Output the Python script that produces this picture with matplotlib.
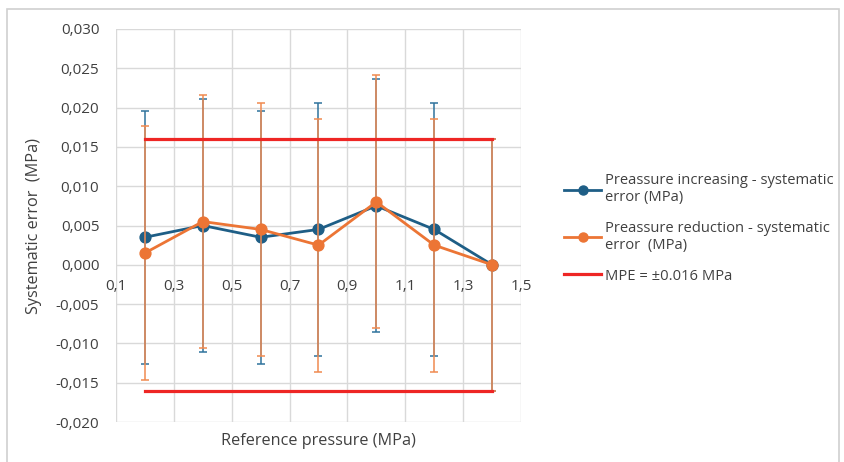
import matplotlib.pyplot as plt
from matplotlib.ticker import FuncFormatter
from matplotlib.patches import Rectangle
from matplotlib.lines import Line2D

# data
pressure = [0.2, 0.4, 0.6, 0.8, 1.0, 1.2, 1.4]
err_increasing = [0.0035, 0.005, 0.0035, 0.0045, 0.0075, 0.0045, 0.0]
err_reduction = [0.0015, 0.0055, 0.0045, 0.0025, 0.008, 0.0025, 0.0]
uncert_increasing = [0.0161, 0.0161, 0.0161, 0.0161, 0.0161, 0.0161, 0.016]
uncert_reduction = [0.0161, 0.0161, 0.0161, 0.0161, 0.0161, 0.0161, 0.016]
mpe_x = [0.2, 1.4]
mpe = 0.016

x_ticks = [0.1, 0.3, 0.5, 0.7, 0.9, 1.1, 1.3, 1.5]
y_ticks = [-0.020, -0.015, -0.010, -0.005, 0.0, 0.005, 0.010, 0.015, 0.020, 0.025, 0.030]

labels = ["Preassure increasing - systematic\nerror (MPa)",
          "Preassure reduction - systematic\nerror  (MPa)",
          "MPE = \u00b10.016 MPa"]

blue = "#1E5E86"
orange = "#EC7535"
red = "#EE2624"
text_col = "#404040"
grid_col = "#D9D9D9"

plt.rcParams['font.family'] = ['Open Sans', 'DejaVu Sans']

fig = plt.figure(figsize=(8.45, 4.62), dpi=100)
fig.patches.append(Rectangle((7 / 845, -0.01), 832 / 845, 1 - 9 / 462 + 0.01,
                             transform=fig.transFigure, fill=False,
                             edgecolor="#D0D0D0", linewidth=1.2))

ax = fig.add_axes([116 / 845, 1 - 422 / 462, 405 / 845, 393 / 462])

# blue series first, orange on top of it
ax.errorbar(pressure, err_increasing, yerr=uncert_increasing, color=blue,
            ecolor="#2F739C", elinewidth=1.1, capsize=3.2, capthick=1.1,
            linewidth=2.0, marker='o', markersize=7.8, zorder=3)
ax.errorbar(pressure, err_reduction, yerr=uncert_reduction, color=orange,
            ecolor="#F08A50", elinewidth=1.1, capsize=3.2, capthick=1.1,
            linewidth=2.0, marker='o', markersize=7.8, zorder=4)
ax.plot(mpe_x, [mpe, mpe], color=red, linewidth=2.3, zorder=5)
ax.plot(mpe_x, [-mpe, -mpe], color=red, linewidth=2.3, zorder=5)

ax.set_xlim(0.1, 1.5)
ax.set_ylim(-0.020, 0.030)
ax.set_xticks(x_ticks)
ax.set_yticks(y_ticks)
ax.xaxis.set_major_formatter(FuncFormatter(lambda v, p: f"{v:.1f}".replace('.', ',')))
ax.yaxis.set_major_formatter(FuncFormatter(lambda v, p: f"{v:.3f}".replace('.', ',').replace('-0,000', '0,000')))
ax.grid(True, color=grid_col, linewidth=1.0, zorder=0)
ax.set_axisbelow(True)

for s in ['top', 'right', 'left']:
    ax.spines[s].set_visible(False)
ax.spines['bottom'].set_position(('data', 0))
ax.spines['bottom'].set_visible(False)
ax.tick_params(axis='both', length=0, labelsize=11, labelcolor=text_col)
ax.tick_params(axis='x', pad=10)
ax.tick_params(axis='y', pad=12)

ax.set_ylabel("Systematic error  (MPa)", fontsize=11.7, color=text_col, labelpad=10)
fig.text(318 / 845, 1 - 441 / 462, "Reference pressure (MPa)", fontsize=11.7,
         color=text_col, ha='center', va='center')

handles = [Line2D([], [], color=blue, linewidth=2.0, marker='o', markersize=6.5),
           Line2D([], [], color=orange, linewidth=2.0, marker='o', markersize=6.5),
           Line2D([], [], color=red, linewidth=2.3)]
fig.legend(handles, labels, loc='upper left', bbox_to_anchor=(551 / 845, 1 - 160 / 462),
           frameon=False, fontsize=10.6, handlelength=2.5, handletextpad=0.25,
           labelspacing=1.05, labelcolor=text_col)

fig.savefig("out.png", dpi=100)
